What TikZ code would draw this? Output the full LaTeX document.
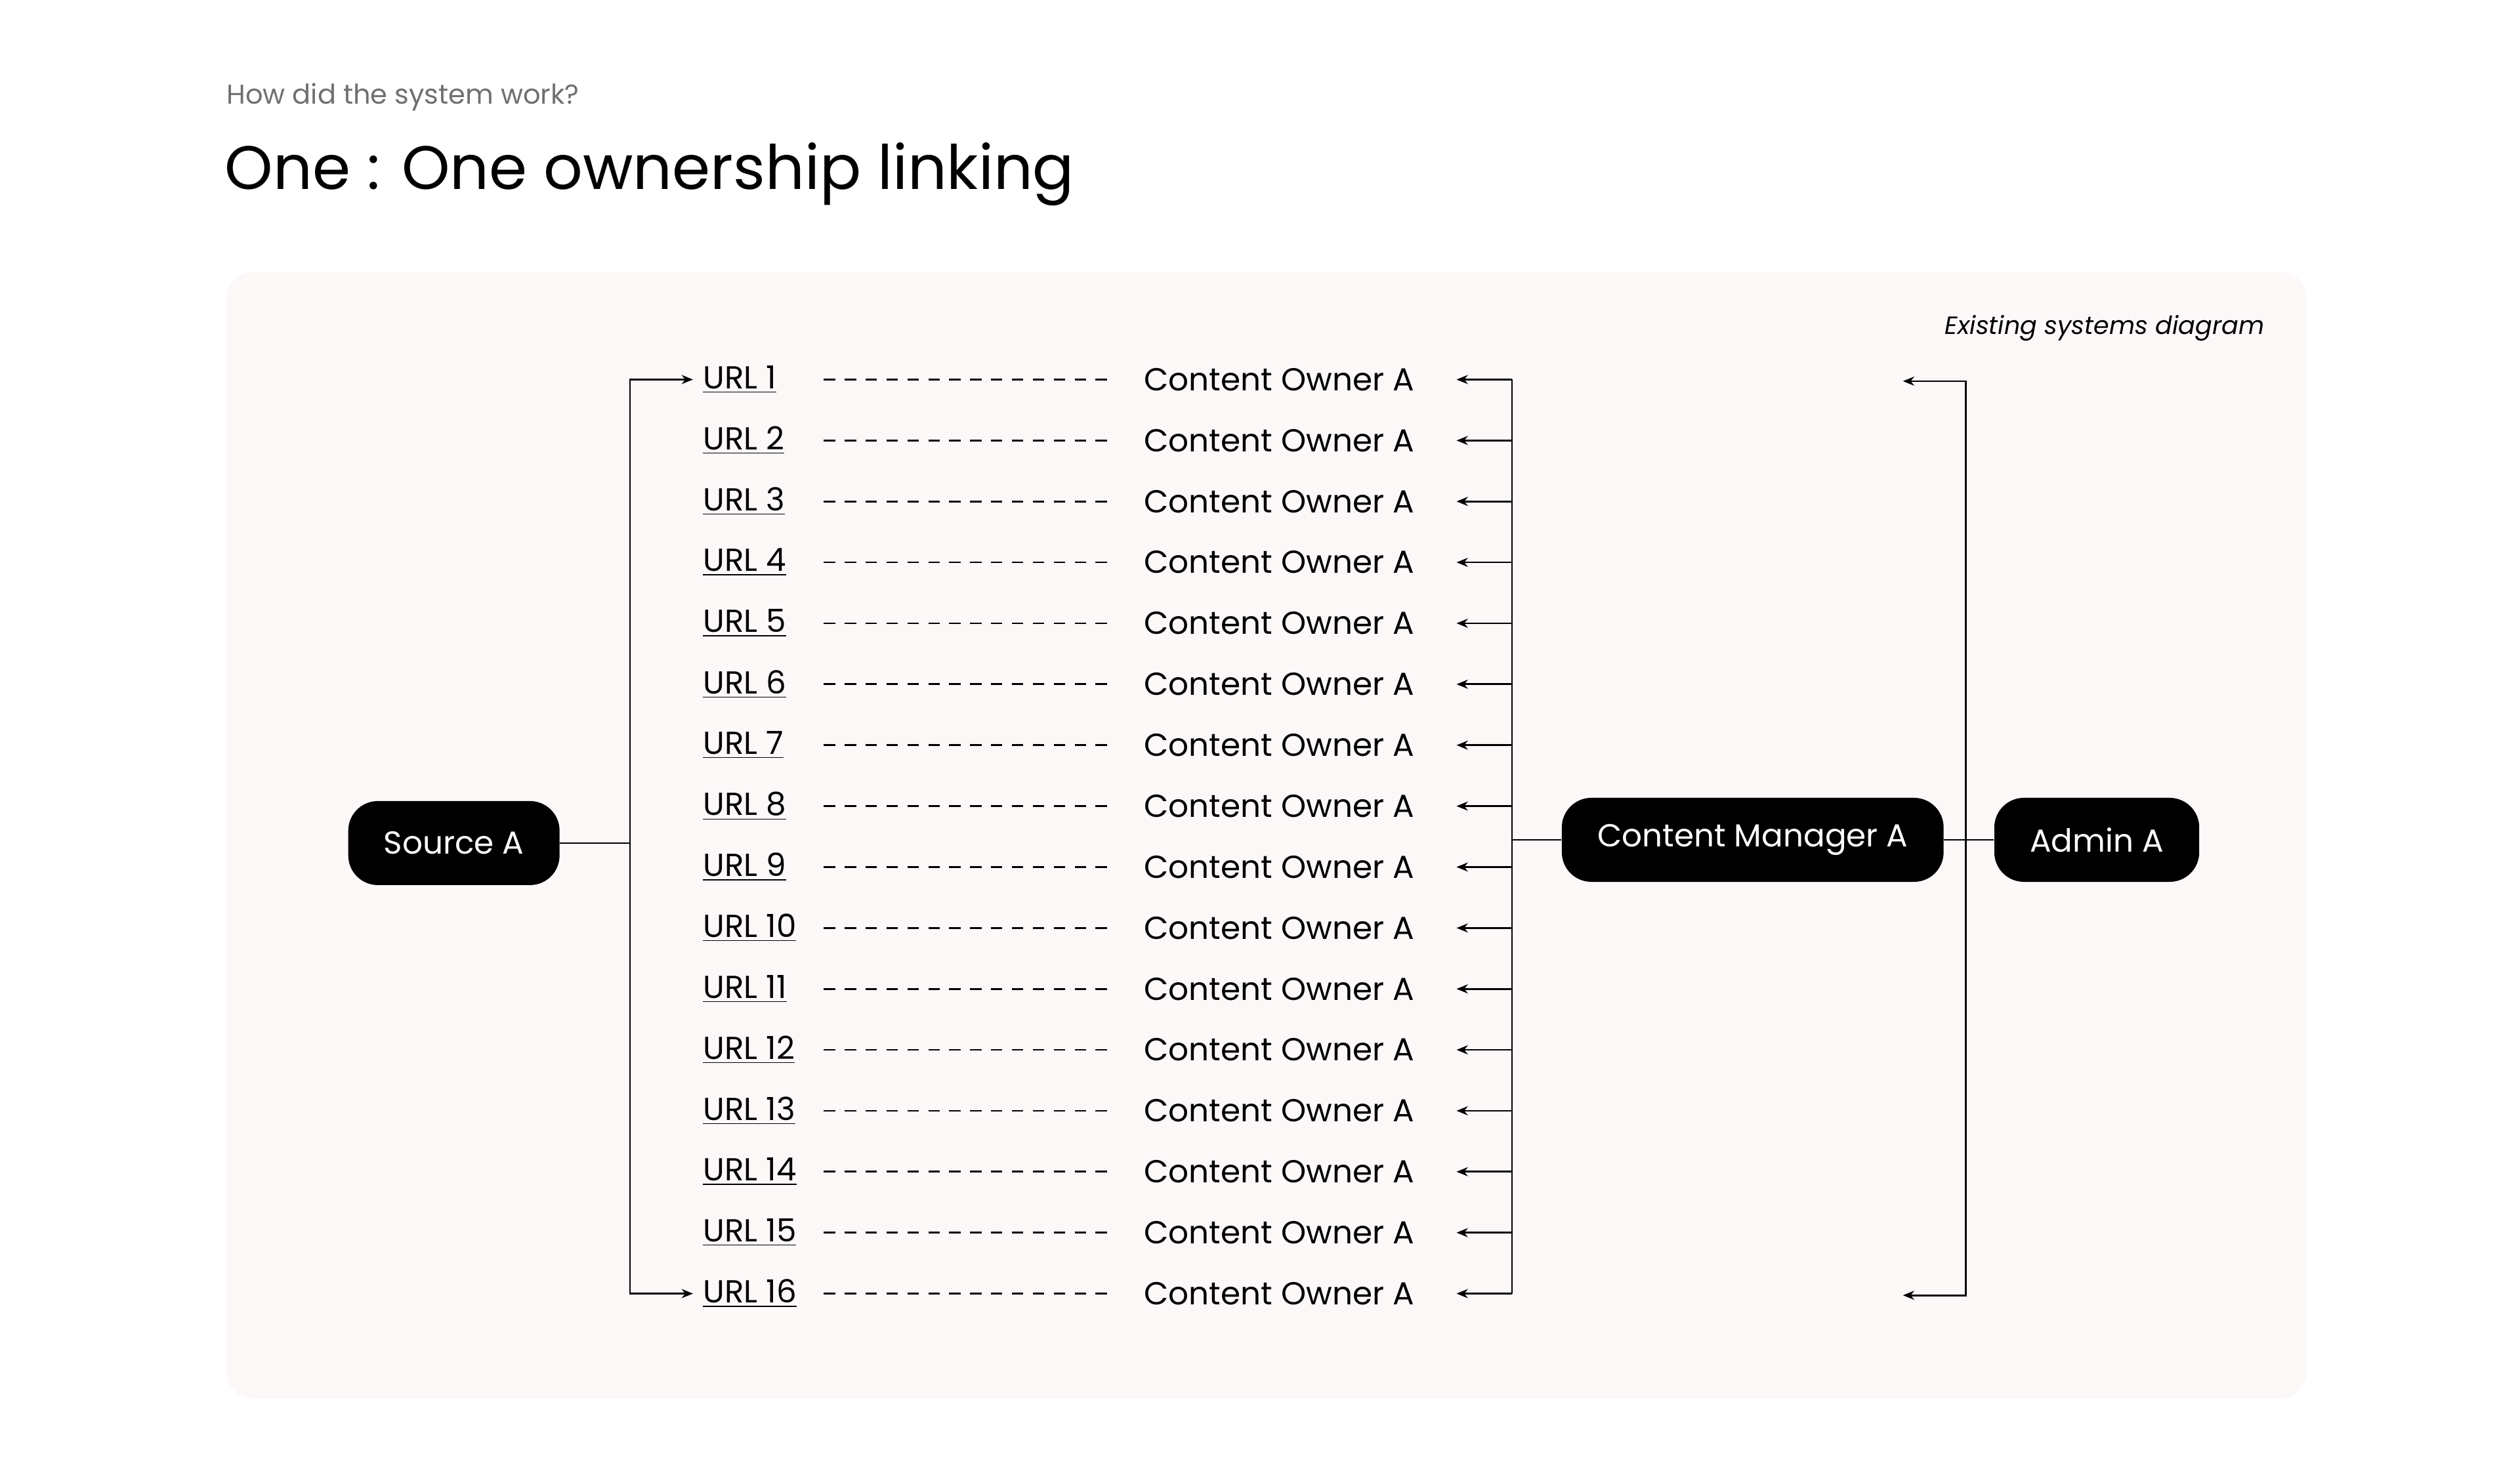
\documentclass[tikz,border=0pt]{standalone}
\usepackage{fontspec}
\setmainfont{Poppins}
\usetikzlibrary{arrows.meta, positioning}
\definecolor{panel}{HTML}{FDF8F8}
\definecolor{subgrey}{HTML}{707070}
\tikzstyle{pill} = [rectangle, fill=black, text=white, rounded corners=13pt, minimum height=1.3cm, inner xsep=0.55cm, font=\fontsize{14}{16}\selectfont]
\tikzstyle{url} = [anchor=west, inner sep=0pt, font=\fontsize{14}{16}\selectfont]
\tikzstyle{owner} = [anchor=west, inner sep=0pt, font=\fontsize{14}{16}\selectfont]
\tikzstyle{arrow} = [-{Stealth[length=5pt, width=4pt]}, line width=0.8pt]
\tikzstyle{link} = [line width=0.8pt]
\begin{document}
\begin{tikzpicture}[x=0.025cm, y=-0.025cm]
\useasboundingbox (0,0) rectangle (1560,912);

% heading
\node[anchor=west, inner sep=0pt, text=subgrey, font=\fontsize{12}{14}\selectfont] (sub) at (140,60) {How did the system work?};
\node[anchor=west, inner sep=0pt, font=\fontsize{27}{30}\selectfont] (title) at (139,108) {One : One ownership linking};

% panel
\fill[panel, rounded corners=12pt] (140,168) rectangle (1428,866);
\node[anchor=east, inner sep=0pt, font=\itshape\fontsize{11}{13}\selectfont] (tag) at (1402,203) {Existing systems diagram};

% main nodes
\node[pill] (source) at (281,522) {Source A};
\node[pill] (manager) at (1085,520) {Content Manager A};
\node[pill] (admin) at (1298,520) {Admin A};

% bus coordinates
\coordinate (busL) at (390,522);
\coordinate (busR) at (936,520);
\coordinate (busA) at (1217,520);

% rows
\foreach \i in {1,...,16} {
  \pgfmathsetmacro{\yy}{235+(\i-1)*37.73}
  \node[url] (url\i) at (435,\yy) {\underline{URL \i}};
  \node[owner] (own\i) at (708,\yy) {Content Owner A};
  \draw[link, dash pattern=on 5pt off 4.2pt] (510,\yy) -- (688,\yy);
  \draw[arrow] (own\i -| busR) -- ([xshift=0.65cm]own\i.east);
}

% left bus
\draw[link] (source.east) -- (busL);
\draw[arrow] (busL) |- ([xshift=-0.15cm]url1.west);
\draw[arrow] (busL) |- ([xshift=-0.15cm]url16.west);

% right bus
\draw[link] (own1 -| busR) -- (own16 -| busR);
\draw[link] (busR) -- (manager.west);

% admin bus
\coordinate (admTop) at (1178,236);
\coordinate (admBot) at (1178,802);
\draw[link] (manager.east) -- (admin.west);
\draw[arrow] (busA) |- (admTop);
\draw[arrow] (busA) |- (admBot);

\end{tikzpicture}
\end{document}
